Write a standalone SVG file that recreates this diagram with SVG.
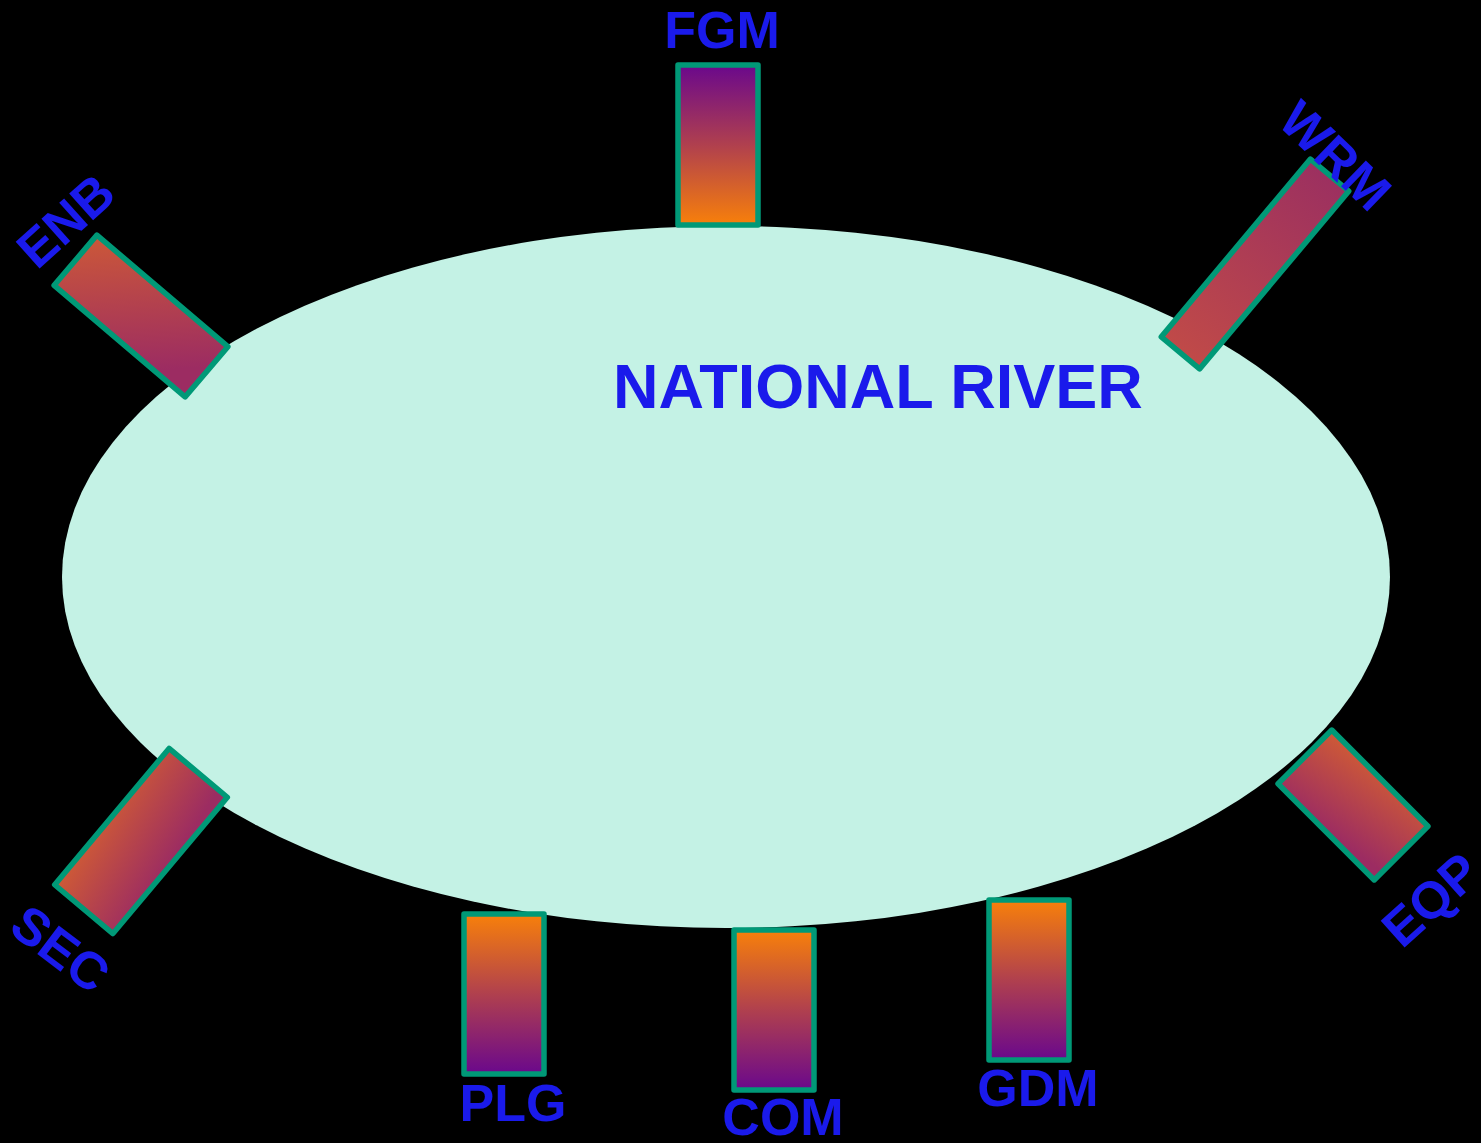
<svg xmlns="http://www.w3.org/2000/svg" width="1481" height="1143" viewBox="0 0 1481 1143">
<defs>
<linearGradient id="gUp" x1="0" y1="0" x2="0" y2="1">
<stop offset="0" stop-color="#6a088c"/><stop offset="0.5" stop-color="#b0404e"/><stop offset="1" stop-color="#f8800a"/>
</linearGradient>
<linearGradient id="gDown" x1="0" y1="0" x2="0" y2="1">
<stop offset="0" stop-color="#f8800a"/><stop offset="0.5" stop-color="#b0404e"/><stop offset="1" stop-color="#6a088c"/>
</linearGradient>
<linearGradient id="gTiltH" x1="0" y1="0" x2="1" y2="0.4">
<stop offset="0" stop-color="#cc5838"/><stop offset="1" stop-color="#9c2c62"/>
</linearGradient>
<linearGradient id="gTiltV" x1="0.2" y1="0" x2="0.5" y2="1">
<stop offset="0" stop-color="#cc5838"/><stop offset="1" stop-color="#9c2c62"/>
</linearGradient>
<linearGradient id="gTiltW" x1="0" y1="0" x2="1" y2="0">
<stop offset="0" stop-color="#c04a48"/><stop offset="1" stop-color="#9c3060"/>
</linearGradient>
</defs>
<style>
.box{stroke:#009977;stroke-width:5.5;stroke-linejoin:round}
.lbl{font-family:"Liberation Sans",Arial,sans-serif;font-weight:bold;font-size:52px;fill:#1a1aeb;text-anchor:middle}
</style>
<rect width="1481" height="1143" fill="#000"/>
<g id="river">
<ellipse cx="726" cy="577" rx="664" ry="351" fill="#c4f2e5"/>
<text x="613" y="408" style="font-family:'Liberation Sans',Arial,sans-serif;font-weight:bold;font-size:63px;fill:#1a1aeb">NATIONAL RIVER</text>
</g>
<g id="connectors"></g>
<g id="FGM">
<rect class="box" x="678" y="65" width="80" height="160" fill="url(#gUp)"/>
<text class="lbl" x="722" y="48">FGM</text>
</g>
<g id="PLG">
<rect class="box" x="464" y="914" width="80" height="160" fill="url(#gDown)"/>
<text class="lbl" x="513" y="1121">PLG</text>
</g>
<g id="COM">
<rect class="box" x="734" y="930" width="80" height="160" fill="url(#gDown)"/>
<text class="lbl" x="783" y="1135">COM</text>
</g>
<g id="GDM">
<rect class="box" x="989" y="900" width="80" height="160" fill="url(#gDown)"/>
<text class="lbl" x="1038" y="1106">GDM</text>
</g>
<g id="ENB">
<rect class="box" transform="translate(141 316) rotate(40.4)" x="-86" y="-33" width="172" height="66" fill="url(#gTiltH)"/>
<text class="lbl" transform="translate(65 220) rotate(-42)" x="0" y="19">ENB</text>
</g>
<g id="WRM">
<rect class="box" transform="translate(1255 264) rotate(-50)" x="-116" y="-25" width="232" height="50" fill="url(#gTiltW)"/>
<text class="lbl" transform="translate(1336 155) rotate(44)" x="0" y="19">WRM</text>
</g>
<g id="SEC">
<rect class="box" transform="translate(141 841) rotate(-50)" x="-89" y="-38" width="178" height="76" fill="url(#gTiltV)"/>
<text class="lbl" transform="translate(61 948) rotate(37)" x="0" y="19">SEC</text>
</g>
<g id="EQP">
<rect class="box" transform="translate(1353 805) rotate(45)" x="-68" y="-38" width="136" height="76" fill="url(#gTiltV)"/>
<text class="lbl" transform="translate(1430 899) rotate(-42)" x="0" y="19">EQP</text>
</g>
</svg>
